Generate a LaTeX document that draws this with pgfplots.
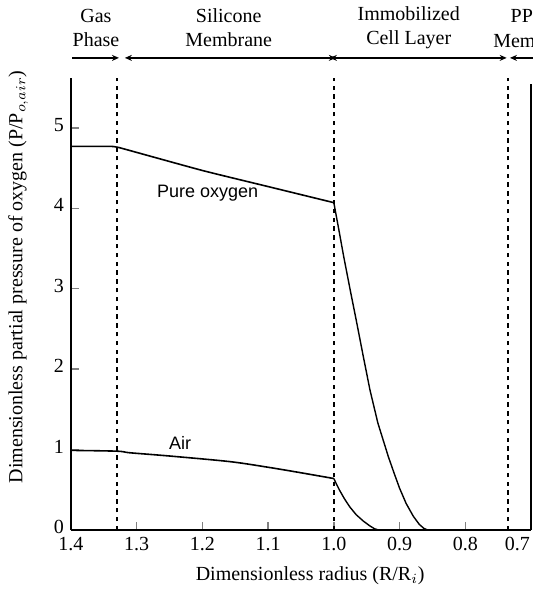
\documentclass[border=0pt]{standalone}
\usepackage{fontspec}
\setmainfont{Liberation Serif}
\newfontfamily\labelsans{Liberation Sans}
\usepackage{pgfplots}
\pgfplotsset{compat=1.18}
\usetikzlibrary{arrows.meta}

\begin{document}
\begin{tikzpicture}
\useasboundingbox (-35.5pt,-30.5pt) rectangle (231pt,265pt);
\begin{axis}[
  scale only axis, width=230pt, height=226pt,
  x dir=reverse, xmin=0.7, xmax=1.4, ymin=0, ymax=5.62,
  axis x line*=bottom, axis y line*=left,
  axis line style={line width=0.8pt},
  xtick={0.7,0.8,0.9,1.0,1.1,1.2,1.3,1.4}, ytick={0,1,2,3,4,5},
  xticklabels={\makebox[0pt][r]{0.7\hspace{0.5pt}},0.8,0.9,1.0,1.1,1.2,1.3,1.4},
  major tick length=4pt, tick style={line width=0.7pt},
  /pgf/number format/assume math mode=true,
  yticklabel style={yshift=1.5pt},
  xlabel={Dimensionless radius (R/R$_i$)},
  ylabel={Dimensionless partial pressure of oxygen (P/P$_{o,air}$)},
  xlabel style={at={(axis description cs:0.52,-0.1)}, anchor=center},
  ylabel style={at={(axis description cs:-0.115,0.56)}, anchor=center},
  clip=false,
]
% pure oxygen
\addplot[black, line width=0.8pt, smooth, tension=0.3] coordinates {
  (1.4,4.77) (1.34,4.77) (1.33,4.76) (1.32,4.74) (1.2,4.47) (1.1,4.27) (1.0,4.07)
};
\addplot[black, line width=0.7pt, line join=round] coordinates {
  (1.0,4.07) (0.998,3.98) (0.993,3.76) (0.985,3.40) (0.975,2.98) (0.965,2.57)
  (0.955,2.15) (0.945,1.74) (0.933,1.33) (0.917,0.91) (0.908,0.70) (0.900,0.52)
  (0.890,0.33) (0.879,0.17) (0.870,0.07) (0.863,0.02) (0.857,0)
};
% air
\addplot[black, line width=0.8pt, smooth, tension=0.5] coordinates {
  (1.4,0.99) (1.33,0.98) (1.31,0.96) (1.25,0.92) (1.158,0.85) (1.1,0.78) (1.056,0.72) (1.0,0.64)
};
\addplot[black, line width=0.7pt, line join=round] coordinates {
  (1.0,0.64) (0.996,0.57) (0.991,0.49) (0.984,0.39) (0.976,0.29) (0.966,0.19)
  (0.955,0.11) (0.945,0.05) (0.938,0.015) (0.932,0)
};
% region boundaries
\addplot[black, dash pattern=on 2.2pt off 2.2pt, line width=0.8pt] coordinates {(1.33,0) (1.33,5.62)};
\addplot[black, dash pattern=on 2.2pt off 2.2pt, line width=0.8pt] coordinates {(1.0,0) (1.0,5.62)};
\addplot[black, dash pattern=on 2.2pt off 2.2pt, line width=0.8pt] coordinates {(0.735,0) (0.735,5.62)};
\draw[line width=0.8pt] (rel axis cs:1,0) -- (axis cs:0.7,5.55);

\node[font=\labelsans\small] at (axis cs:1.192,4.19) {Pure oxygen};
\node[font=\labelsans\small] at (axis cs:1.234,1.08) {Air};

% layer labels
\node[align=center] at (axis cs:1.362,6.24) {Gas\\Phase};
\node[align=center] at (axis cs:1.16,6.24) {Silicone\\Membrane};
\node[align=center] at (axis cs:0.886,6.24) {Immobilized\\Cell Layer};
\node at (axis cs:0.714,6.39) {PP};
\node[anchor=west, inner xsep=0pt] at (axis cs:0.758,6.09) {Membrane};
\draw[line width=0.6pt, -{Stealth[length=3.5pt,width=3pt]}] (axis cs:1.398,5.87) -- (axis cs:1.327,5.87);
\draw[line width=0.6pt, {Stealth[length=3.5pt,width=3pt]}-{Stealth[length=3.5pt,width=3pt]}] (axis cs:1.318,5.87) -- (axis cs:0.997,5.87);
\draw[line width=0.6pt, {Stealth[length=3.5pt,width=3pt]}-{Stealth[length=3.5pt,width=3pt]}] (axis cs:1.006,5.87) -- (axis cs:0.737,5.87);
\draw[line width=0.6pt, {Stealth[length=3.5pt,width=3pt]}-] (axis cs:0.732,5.87) -- (axis cs:0.69,5.87);
\end{axis}
\end{tikzpicture}
\end{document}
